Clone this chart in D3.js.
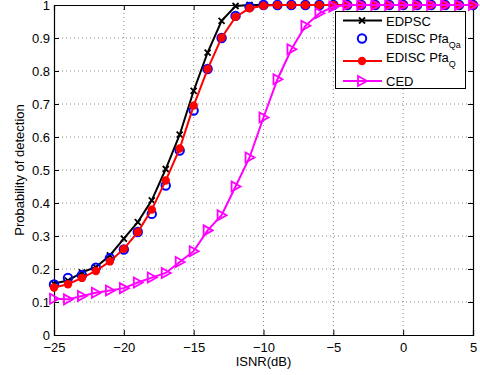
<!DOCTYPE html>
<html><head><meta charset="utf-8">
<script src="https://cdn.jsdelivr.net/npm/d3@7"></script>
<style>body{margin:0;background:#fff}svg{display:block}text{font-family:"Liberation Sans",Arial,sans-serif}</style>
</head><body><svg id="c" width="480" height="375"></svg>
<script>
const snr = d3.range(-25, 6, 1);
const edpsc = [0.156,0.165,0.19,0.206,0.241,0.292,0.342,0.408,0.503,0.607,0.74,0.856,0.952,0.997,1,1,1,1,1,1,1,1,1,1,1,1,1,1,1,1,1];
const ediscQa = [0.153,0.173,0.181,0.204,0.233,0.259,0.312,0.367,0.453,0.559,0.68,0.806,0.90,0.967,0.994,1,1,1,1,1,1,1,1,1,1,1,1,1,1,1,1];
const ediscQ = [0.144,0.154,0.173,0.194,0.223,0.261,0.312,0.38,0.468,0.565,0.695,0.806,0.901,0.964,0.99,0.998,1,1,1,1,1,1,1,1,1,1,1,1,1,1,1];
const ced = [0.11,0.108,0.118,0.128,0.135,0.142,0.159,0.174,0.188,0.221,0.254,0.317,0.363,0.45,0.538,0.659,0.775,0.866,0.937,0.975,0.995,1,1,1,1,1,1,1,1,1,1];
const xTicks = [-25,-20,-15,-10,-5,0,5];
const yTicks = [0,0.1,0.2,0.3,0.4,0.5,0.6,0.7,0.8,0.9,1];
const xTickLabels = ["\u221225","\u221220","\u221215","\u221210","\u22125","0","5"];
const yTickLabels = ["0","0.1","0.2","0.3","0.4","0.5","0.6","0.7","0.8","0.9","1"];

const FS=13;
const L=54,R=473,T=5,B=335;
const svg=d3.select("#c");
const x=d3.scaleLinear().domain([-25,5]).range([L,R]);
const y=d3.scaleLinear().domain([0,1]).range([B,T]);

// grid
const g=svg.append("g");
g.selectAll(".gx").data(xTicks.slice(1,-1)).join("line")
 .attr("x1",d=>x(d)).attr("x2",d=>x(d)).attr("y1",T).attr("y2",B)
 .attr("stroke","#888").attr("stroke-width",1).attr("stroke-dasharray","1,3");
g.selectAll(".gy").data(yTicks.slice(1,-1)).join("line")
 .attr("y1",d=>y(d)).attr("y2",d=>y(d)).attr("x1",L).attr("x2",R)
 .attr("stroke","#888").attr("stroke-width",1).attr("stroke-dasharray","1,3");

// axes
const ax=svg.append("g").attr("transform",`translate(0,${B})`)
 .call(d3.axisBottom(x).tickValues(xTicks).tickSize(-5).tickPadding(7.5).tickFormat((d,i)=>xTickLabels[i]));
const axt=svg.append("g").attr("transform",`translate(0,${T})`)
 .call(d3.axisTop(x).tickValues(xTicks).tickSize(-5).tickFormat(""));
const ay=svg.append("g").attr("transform",`translate(${L},0)`)
 .call(d3.axisLeft(y).tickValues(yTicks).tickSize(-5).tickPadding(4).tickFormat((d,i)=>yTickLabels[i]));
const ayr=svg.append("g").attr("transform",`translate(${R},0)`)
 .call(d3.axisRight(y).tickValues(yTicks).tickSize(-5).tickFormat(""));
[ax,axt,ay,ayr].forEach(a=>{a.select(".domain").attr("stroke","#000").attr("stroke-width",1.2);
 a.selectAll(".tick line").attr("stroke","#000");
 a.selectAll("text").attr("font-size",FS).attr("fill","#000").style("font-family","Liberation Sans, Arial, sans-serif");});

svg.append("text").attr("x",(L+R)/2).attr("y",366).attr("text-anchor","middle").attr("font-size",FS).text("ISNR(dB)");
svg.append("text").attr("transform",`translate(23.5,${(T+B)/2}) rotate(-90)`).attr("text-anchor","middle").attr("font-size",FS).text("Probability of detection");

const plot=svg.append("g");
const line=d3.line().x((d,i)=>x(snr[i])).y(d=>y(d));

function xmark(sel,cx,cy,s,col){
 sel.append("path").attr("d",`M${cx-s},${cy-s}L${cx+s},${cy+s}M${cx-s},${cy+s}L${cx+s},${cy-s}`).attr("stroke",col).attr("stroke-width",1.8).attr("fill","none");
}
function tri(sel,cx,cy,s,col){
 sel.append("path").attr("d",`M${cx+s},${cy}L${cx-s*0.8},${cy-s}L${cx-s*0.8},${cy+s}Z`).attr("stroke",col).attr("stroke-width",1.8).attr("fill","none").attr("stroke-linejoin","miter");
}
// EDPSC
plot.append("path").datum(edpsc).attr("d",line).attr("fill","none").attr("stroke","#000").attr("stroke-width",2);
edpsc.forEach((d,i)=>xmark(plot,x(snr[i]),y(d),3,"#000"));
// EDISC Qa
ediscQa.forEach((d,i)=>plot.append("circle").attr("cx",x(snr[i])).attr("cy",y(d)).attr("r",4.2).attr("fill","none").attr("stroke","#0000ff").attr("stroke-width",2));
// EDISC Q
plot.append("path").datum(ediscQ).attr("d",line).attr("fill","none").attr("stroke","#ff0000").attr("stroke-width",2);
ediscQ.forEach((d,i)=>plot.append("circle").attr("cx",x(snr[i])).attr("cy",y(d)).attr("r",4.2).attr("fill","#ff0000"));
// CED
plot.append("path").datum(ced).attr("d",line).attr("fill","none").attr("stroke","#ff00ff").attr("stroke-width",2);
ced.forEach((d,i)=>tri(plot,x(snr[i]),y(d),5,"#ff00ff"));

// legend
const lg=svg.append("g");
lg.append("rect").attr("x",335.5).attr("y",11.5).attr("width",130).attr("height",77).attr("fill","#fff").attr("stroke","#000").attr("stroke-width",1);
const rows=[20.5,38.5,61,81];
const lx1=343,lx2=382,lxm=362,tx=386;
lg.append("line").attr("x1",lx1).attr("x2",lx2).attr("y1",rows[0]).attr("y2",rows[0]).attr("stroke","#000").attr("stroke-width",2);
xmark(lg,lxm,rows[0],3,"#000");
lg.append("circle").attr("cx",lxm).attr("cy",rows[1]).attr("r",4.2).attr("fill","none").attr("stroke","#0000ff").attr("stroke-width",2);
lg.append("line").attr("x1",lx1).attr("x2",lx2).attr("y1",rows[2]).attr("y2",rows[2]).attr("stroke","#ff0000").attr("stroke-width",2);
lg.append("circle").attr("cx",lxm).attr("cy",rows[2]).attr("r",4.2).attr("fill","#ff0000");
lg.append("line").attr("x1",lx1).attr("x2",lx2).attr("y1",rows[3]).attr("y2",rows[3]).attr("stroke","#ff00ff").attr("stroke-width",2);
tri(lg,lxm,rows[3],5,"#ff00ff");
lg.append("text").attr("x",tx).attr("y",25.5).attr("font-size",FS).text("EDPSC");
const t1=lg.append("text").attr("x",tx).attr("y",43).attr("font-size",FS);
t1.append("tspan").text("EDISC Pfa");
t1.append("tspan").attr("font-size",9).attr("dy",4.5).text("Qa");
const t2=lg.append("text").attr("x",tx).attr("y",62).attr("font-size",FS);
t2.append("tspan").text("EDISC Pfa");
t2.append("tspan").attr("font-size",9).attr("dy",4.5).text("Q");
lg.append("text").attr("x",tx).attr("y",85.5).attr("font-size",FS).text("CED");
</script></body></html>
